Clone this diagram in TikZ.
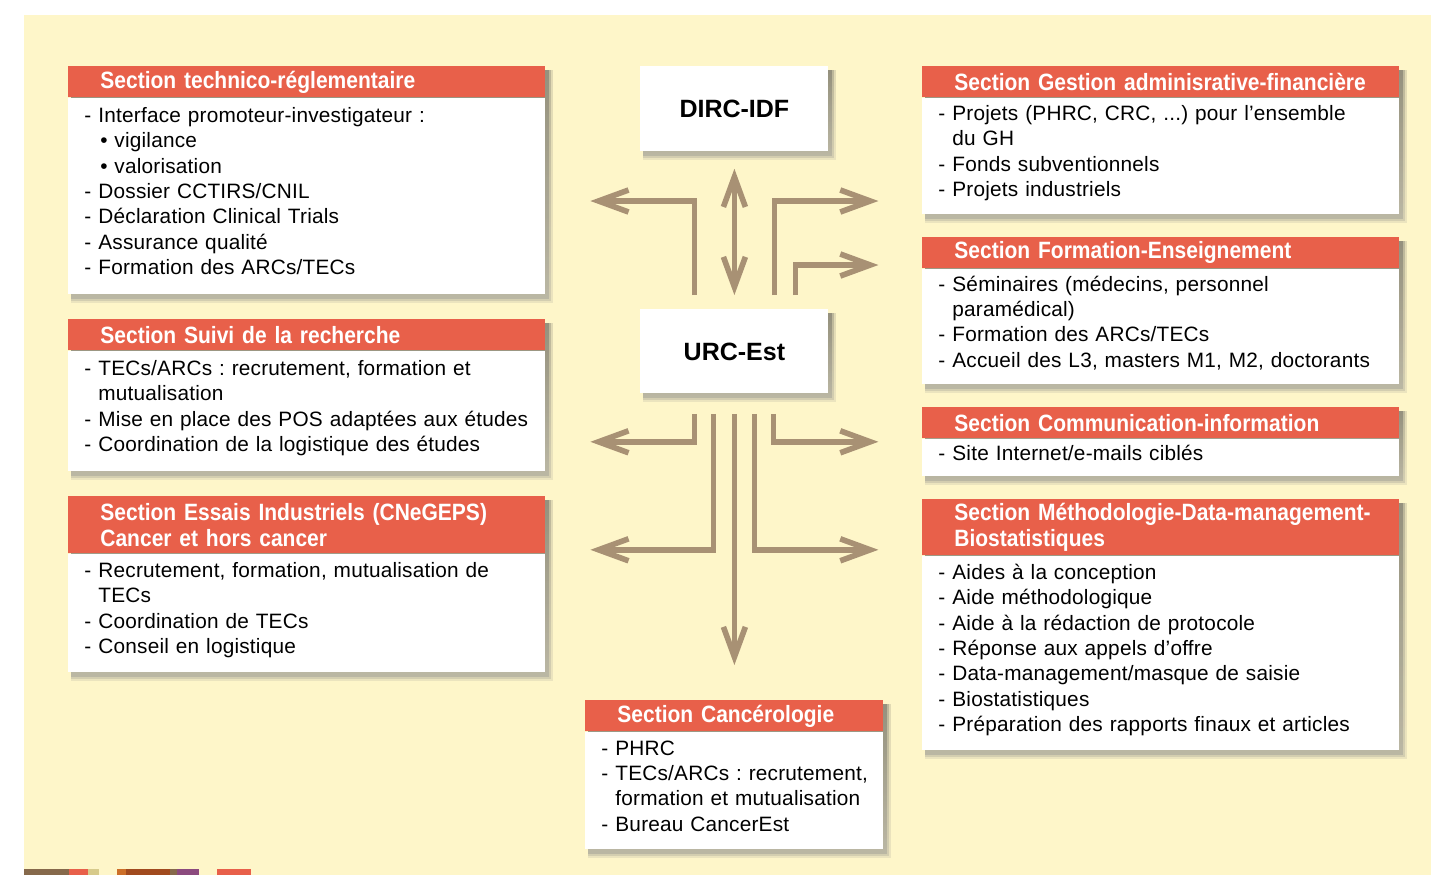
\documentclass[tikz,border=0pt]{standalone}
\usepackage{fontspec}
\setmainfont{Liberation Sans}[LetterSpace=1]
\newfontfamily\headfont{Liberation Sans}[FakeStretch=0.89]
\newfontfamily\hubfont{Liberation Sans}
\usepackage{tikz}
\usetikzlibrary{arrows.meta,positioning,calc,backgrounds}
\definecolor{cream}{HTML}{FEF6C9}
\definecolor{secred}{HTML}{E8604A}
\definecolor{arrowtan}{HTML}{A89174}
\definecolor{shade}{HTML}{8C8660}
\definecolor{stripbrown}{HTML}{86694B}
\definecolor{stripsand}{HTML}{D7CA8B}
\definecolor{striporange}{HTML}{CC6F29}
\definecolor{striprust}{HTML}{A14A1E}
\definecolor{strippurple}{HTML}{8B4A7E}
\frenchspacing
\newcommand{\itm}[1]{\par\noindent\hspace*{-7pt}\makebox[7pt][l]{-}\mbox{\strut#1}}
\newcommand{\cnt}[1]{\par\noindent\mbox{\strut#1}}
\newcommand{\bul}[1]{\cnt{\hspace*{1pt}\makebox[7pt][l]{\textbullet}#1}}

\begin{document}
\begin{tikzpicture}[x=0.5pt,y=-0.5pt,
    head/.style={fill=secred,text=white,anchor=north west,inner xsep=0pt,inner ysep=0pt,
      text width=238.5pt,minimum height=15.5pt,
      font=\headfont\bfseries\fontsize{11.8}{13}\selectfont,
      execute at begin node={\leftskip=16pt\parindent=0pt}},
    body/.style={fill=white,inner xsep=0pt,inner ysep=0pt,text width=238.5pt,
      font=\fontsize{10.4}{12.65}\selectfont,
      execute at begin node={\leftskip=15pt\parindent=0pt\vspace*{-6.5pt}}},
    hub/.style={fill=white,anchor=north west,minimum width=94pt,minimum height=42.5pt,
      font=\hubfont\bfseries\fontsize{12.5}{14}\selectfont},
    barb/.tip={Straight Barb[length=15pt,width=11pt]},
    conn/.style={draw=arrowtan,line width=2.8pt,-barb}]
  \useasboundingbox (0,0) rectangle (1431,875);
  \begin{pgfonlayer}{background}
    \fill[white] (0,0) rectangle (1431,875);
    \fill[cream] (24,15) rectangle (1431,875);
  \end{pgfonlayer}

  \node[head] (h1) at (68,66) {Section technico-réglementaire};
  \node[body,minimum height=98pt,below=0pt of h1] (b1) {%
    \itm{Interface promoteur-investigateur :}
    \bul{vigilance}
    \bul{valorisation}
    \itm{Dossier CCTIRS/CNIL}
    \itm{Déclaration Clinical Trials}
    \itm{Assurance qualité}
    \itm{Formation des ARCs/TECs}};

  \node[head] (h2) at (68,319) {Section Suivi de la recherche};
  \node[body,minimum height=60pt,below=0pt of h2] (b2) {%
    \itm{TECs/ARCs : recrutement, formation et}
    \cnt{mutualisation}
    \itm{Mise en place des POS adaptées aux études}
    \itm{Coordination de la logistique des études}};

  \node[head,minimum height=28.5pt] (h3) at (68,496) {Section Essais Industriels (CNeGEPS)\\Cancer et hors cancer};
  \node[body,minimum height=59pt,below=0pt of h3] (b3) {%
    \itm{Recrutement, formation, mutualisation de}
    \cnt{TECs}
    \itm{Coordination de TECs}
    \itm{Conseil en logistique}};

  \node[head] (h4) at (922,66) {Section Gestion adminisrative-financière};
  \node[body,minimum height=58pt,below=0pt of h4] (b4) {%
    \itm{Projets (PHRC, CRC, ...) pour l’ensemble}
    \cnt{du GH}
    \itm{Fonds subventionnels}
    \itm{Projets industriels}};

  \node[head] (h5) at (922,237) {Section Formation-Enseignement};
  \node[body,minimum height=57.5pt,below=0pt of h5] (b5) {%
    \itm{Séminaires (médecins, personnel}
    \cnt{paramédical)}
    \itm{Formation des ARCs/TECs}
    \itm{Accueil des L3, masters M1, M2, doctorants}};

  \node[head] (h6) at (922,407) {Section Communication-information};
  \node[body,minimum height=18.5pt,below=0pt of h6] (b6) {%
    \itm{Site Internet/e-mails ciblés}};

  \node[head,minimum height=28pt] (h7) at (922,499) {Section Méthodologie-Data-management-\\Biostatistiques};
  \node[body,minimum height=97pt,below=0pt of h7] (b7) {%
    \itm{Aides à la conception}
    \itm{Aide méthodologique}
    \itm{Aide à la rédaction de protocole}
    \itm{Réponse aux appels d’offre}
    \itm{Data-management/masque de saisie}
    \itm{Biostatistiques}
    \itm{Préparation des rapports finaux et articles}};

  \node[head,text width=149pt] (h8) at (585,700) {Section Cancérologie};
  \node[body,text width=149pt,minimum height=58.5pt,below=0pt of h8] (b8) {%
    \itm{PHRC}
    \itm{TECs/ARCs : recrutement,}
    \cnt{formation et mutualisation}
    \itm{Bureau CancerEst}};

  \node[hub] (dirc) at (640,66) {DIRC-IDF};
  \node[hub,minimum height=42pt] (urc) at (640,309) {URC-Est};

  \begin{pgfonlayer}{background}
    \foreach \a/\b in {h1/b1,h2/b2,h3/b3,h4/b4,h5/b5,h6/b6,h7/b7,h8/b8,dirc/dirc,urc/urc}{
      \fill[shade,opacity=0.08] ($(\a.north west)+(3,4)$) rectangle ($(\b.south east)+(7,8)$);
      \fill[shade,opacity=0.12] ($(\a.north west)+(3,4)$) rectangle ($(\b.south east)+(5,6)$);
      \fill[shade,opacity=0.18] ($(\a.north west)+(3,4)$) rectangle ($(\b.south east)+(3,4)$);
    }
  \end{pgfonlayer}

  \draw[conn,barb-barb] ($(urc.north)+(0,-14)$) -- ($(dirc.south)+(0,17)$);
  \draw[conn] ($(urc.north)+(-40,-14)$) |- ($(urc.north)+(-144,-108)$);
  \draw[conn] ($(urc.north)+(40,-14)$) |- ($(urc.north)+(144,-108)$);
  \draw[conn] ($(urc.north)+(61,-14)$) |- ($(urc.north)+(144,-44)$);
  \draw[conn] ($(urc.south)+(-40,20)$) |- ($(urc.south)+(-144,48)$);
  \draw[conn] ($(urc.south)+(-21,20)$) |- ($(urc.south)+(-144,156)$);
  \draw[conn] ($(urc.south)+(0,20)$) -- ($(h8.north)+(0,-35)$);
  \draw[conn] ($(urc.south)+(20,20)$) |- ($(urc.south)+(144,156)$);
  \draw[conn] ($(urc.south)+(39,20)$) |- ($(urc.south)+(144,48)$);

  \foreach \xa/\xb/\c in {24/69/stripbrown,69/88/secred,88/99/stripsand,117/126/striporange,
      126/170/striprust,170/177/stripbrown,177/199/strippurple,217/251/secred}
    \fill[\c] (\xa,869) rectangle (\xb,875);
\end{tikzpicture}
\end{document}
